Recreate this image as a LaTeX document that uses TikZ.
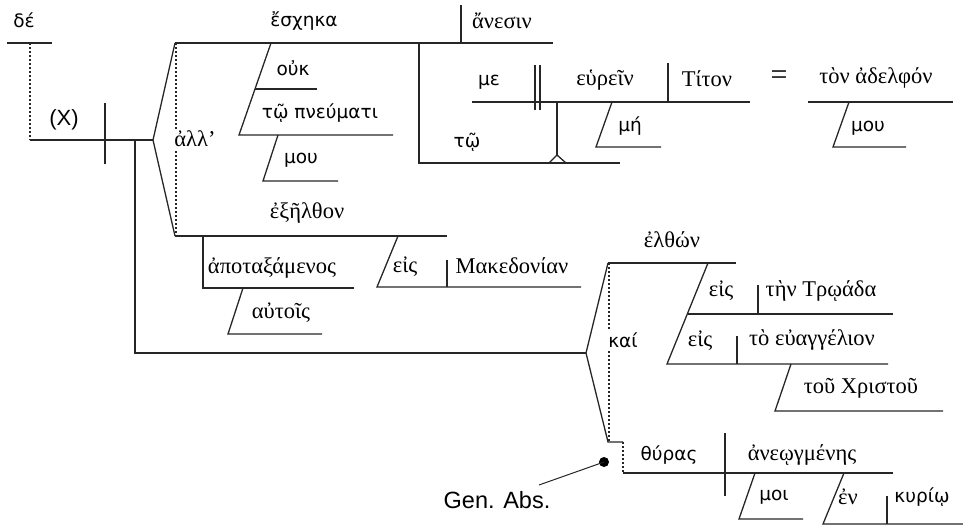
\documentclass[tikz,border=0pt]{standalone}
\usepackage{fontspec}
\setmainfont{Liberation Serif}
\newfontfamily\gsansfont{DejaVu Sans}
\newfontfamily\latsansfont{Liberation Sans}
\begin{document}
\begin{tikzpicture}[x=1pt,y=-1pt,
  rule/.style={line width=1.3pt, draw=black!85, line cap=butt},
  guide/.style={line width=1.2pt, draw=black!85, dash pattern=on 2pt off 2pt},
  gk/.style={font=\fontsize{18.5}{20}\gsansfont, inner sep=0pt},
  gs/.style={font=\fontsize{22.5}{26}\selectfont, inner sep=0pt},
  lat/.style={font=\fontsize{22}{26}\latsansfont, inner sep=0pt},
  cover/.style={fill=white, inner sep=2pt}]
\useasboundingbox (0,0) rectangle (963,527);

% ---------- key points ----------
\coordinate (deL) at (7,43);   \coordinate (deR) at (52,43);
\coordinate (deF) at (30,43);  \coordinate (mainL) at (30,140);
\coordinate (fork1) at (153,140);
\coordinate (divT) at (105,103); \coordinate (divB) at (105,164);
\coordinate (dropT) at (135,140); \coordinate (dropB) at (135,353);
\coordinate (fork2) at (586,353);
% upper clause
\coordinate (upL) at (175,43);  \coordinate (upR) at (553,43);
\coordinate (lowL) at (175,236);
\coordinate (adT) at (176,43);  \coordinate (adB) at (176,236);
\coordinate (ansT) at (461,5);  \coordinate (ansB) at (461,43);
\coordinate (m1a) at (271,43);  \coordinate (m1b) at (239,135);
\coordinate (oukL) at (255,89); \coordinate (oukR) at (317,89);
\coordinate (pnR) at (393,135);
\coordinate (m2a) at (278,135); \coordinate (m2b) at (263,181); \coordinate (m2c) at (338,181);
% infinitive on a stilt
\coordinate (stT) at (419,43);  \coordinate (stB) at (419,163); \coordinate (stR) at (620,163);
\coordinate (carL) at (549,163); \coordinate (carT) at (557,155); \coordinate (carR) at (566,163);
\coordinate (stem) at (557,102);
\coordinate (infL) at (472,102); \coordinate (infR) at (750,102);
\coordinate (dv1T) at (535,65); \coordinate (dv1B) at (535,110);
\coordinate (dv2T) at (540,65); \coordinate (dv2B) at (540,110);
\coordinate (objT) at (668,63); \coordinate (objB) at (668,102);
\coordinate (mha) at (612,102); \coordinate (mhb) at (596,147); \coordinate (mhc) at (661,147);
\coordinate (apL) at (808,102); \coordinate (apR) at (953,102);
\coordinate (m3a) at (849,102); \coordinate (m3b) at (833,147); \coordinate (m3c) at (906,147);
% second clause
\coordinate (exR) at (447,236);
\coordinate (ptT) at (203,236); \coordinate (ptB) at (203,288); \coordinate (ptR) at (354,288);
\coordinate (aua) at (243,288); \coordinate (aub) at (228,334); \coordinate (auc) at (322,334);
\coordinate (e1a) at (398,236); \coordinate (e1b) at (377,287); \coordinate (e1c) at (581,287);
\coordinate (e1dT) at (447,260); \coordinate (e1dB) at (447,287);
% participles joined by kai
\coordinate (kT) at (608,263); \coordinate (kB) at (608,442);
\coordinate (kdT) at (609,263); \coordinate (kdB) at (609,442);
\coordinate (elR) at (736,263);
\coordinate (sla) at (708,263); \coordinate (slb) at (667,364); \coordinate (slm) at (688,314);
\coordinate (e2R) at (893,314); \coordinate (e2dT) at (758,285); \coordinate (e2dB) at (758,314);
\coordinate (e3R) at (888,364); \coordinate (e3dT) at (737,336); \coordinate (e3dB) at (737,364);
\coordinate (cha) at (791,364); \coordinate (chb) at (775,411); \coordinate (chc) at (943,411);
% genitive absolute
\coordinate (gaS) at (623,442); \coordinate (gaL) at (623,473); \coordinate (gaR) at (893,473);
\coordinate (gadT) at (725,433); \coordinate (gadB) at (725,496);
\coordinate (moa) at (755,473); \coordinate (mob) at (739,519); \coordinate (moc) at (803,519);
\coordinate (ena) at (844,473); \coordinate (enb) at (823,524); \coordinate (enc) at (963,524);
\coordinate (endT) at (887,496); \coordinate (endB) at (887,524);
\coordinate (gatip) at (539,485);

% ---------- dotted connectors (labels drawn over them) ----------
\draw[guide] (deF) -- (mainL);
\draw[guide] (adT) -- (adB);
\draw[guide] (kdT) -- (kdB);
\draw[guide] (gaS) -- (gaL);

% ---------- texts ----------
\node[gk] (de) at (24,20) {δέ};
\node[lat] (subj) at (64,120) {(X)};
\node[gk] (escheka) at (304,21) {ἔσχηκα};
\node[gs] (anesin) at (502,21) {ἄνεσιν};
\node[gk] (ouk) at (293,68) {οὐκ};
\node[gk] (pneumati) at (320,113) {τῷ πνεύματι};
\node[gk] (mou1) at (301,160) {μου};
\node[gs, cover] (all) at (195,139) {ἀλλ’};
\node[gk] (me) at (489,82) {με};
\node[gs] (heurein) at (605,80) {εὑρεῖν};
\node[gs] (titon) at (707,79) {Τίτον};
\node[font=\fontsize{30}{32}\selectfont, inner sep=0pt] (eq) at (779,78) {=};
\node[gs] (adelphon) at (876,78) {τὸν ἀδελφόν};
\node[gk] (mou2) at (868,128) {μου};
\node[gk] (mh) at (630,126) {μή};
\node[gk] (to) at (467,142) {τῷ};
\node[gs] (exelthon) at (307,213) {ἐξῆλθον};
\node[gs] (apotax) at (272,268) {ἀποταξάμενος};
\node[gs] (autois) at (281,313) {αὐτοῖς};
\node[gs] (eis1) at (405,267) {εἰς};
\node[gs] (maked) at (512,266) {Μακεδονίαν};
\node[gs] (elthon) at (672,240) {ἐλθών};
\node[gs] (eis2) at (721,291) {εἰς};
\node[gs] (troada) at (821,291) {τὴν Τρῳάδα};
\node[gs] (eis3) at (700,341) {εἰς};
\node[gs] (euang) at (812,340) {τὸ εὐαγγέλιον};
\node[gs] (christou) at (861,388) {τοῦ Χριστοῦ};
\node[gk, cover] (kai) at (623,340) {καί};
\node[gk] (thyras) at (669,455) {θύρας};
\node[gs] (aneog) at (802,455) {ἀνεῳγμένης};
\node[gk] (moi) at (774,497) {μοι};
\node[gs] (en) at (848,497) {ἐν};
\node[gk] (kyrio) at (922,497) {κυρίῳ};
\node[font=\fontsize{23.5}{27}\latsansfont, inner sep=0pt] (genabs) at (497,500) {Gen. Abs.};
\node[circle, fill=black, inner sep=0pt, minimum size=10pt] (gadot) at (604,462) {};

% ---------- solid lines ----------
\draw[rule] (deL) -- (deR);
\draw[rule] (mainL) -- (fork1);
\draw[rule] (divT) -- (divB);
\draw[rule] (dropT) -- (dropB) -- (fork2);
\draw[rule] (upL) -- (fork1) -- (lowL);
\draw[rule] (upL) -- (upR);
\draw[rule] (ansT) -- (ansB);
\draw[rule] (m1a) -- (m1b) -- (pnR);
\draw[rule] (oukL) -- (oukR);
\draw[rule] (m2a) -- (m2b) -- (m2c);
\draw[rule] (stT) -- (stB) -- (stR);
\draw[rule] (carL) -- (carT) -- (carR);
\draw[rule] (carT) -- (stem);
\draw[rule] (infL) -- (infR);
\draw[rule] (dv1T) -- (dv1B);
\draw[rule] (dv2T) -- (dv2B);
\draw[rule] (objT) -- (objB);
\draw[rule] (mha) -- (mhb) -- (mhc);
\draw[rule] (apL) -- (apR);
\draw[rule] (m3a) -- (m3b) -- (m3c);
\draw[rule] (lowL) -- (exR);
\draw[rule] (ptT) -- (ptB) -- (ptR);
\draw[rule] (aua) -- (aub) -- (auc);
\draw[rule] (e1a) -- (e1b) -- (e1c);
\draw[rule] (e1dT) -- (e1dB);
\draw[rule] (kT) -- (fork2) -- (kB) -- (gaS);
\draw[rule] (kT) -- (elR);
\draw[rule] (sla) -- (slb) -- (e3R);
\draw[rule] (slm) -- (e2R);
\draw[rule] (e2dT) -- (e2dB);
\draw[rule] (e3dT) -- (e3dB);
\draw[rule] (cha) -- (chb) -- (chc);
\draw[rule] (gaL) -- (gaR);
\draw[rule] (gadT) -- (gadB);
\draw[rule] (moa) -- (mob) -- (moc);
\draw[rule] (ena) -- (enb) -- (enc);
\draw[rule] (endT) -- (endB);
\draw[rule, line width=1pt] (gadot.center) -- (gatip);
\end{tikzpicture}
\end{document}
